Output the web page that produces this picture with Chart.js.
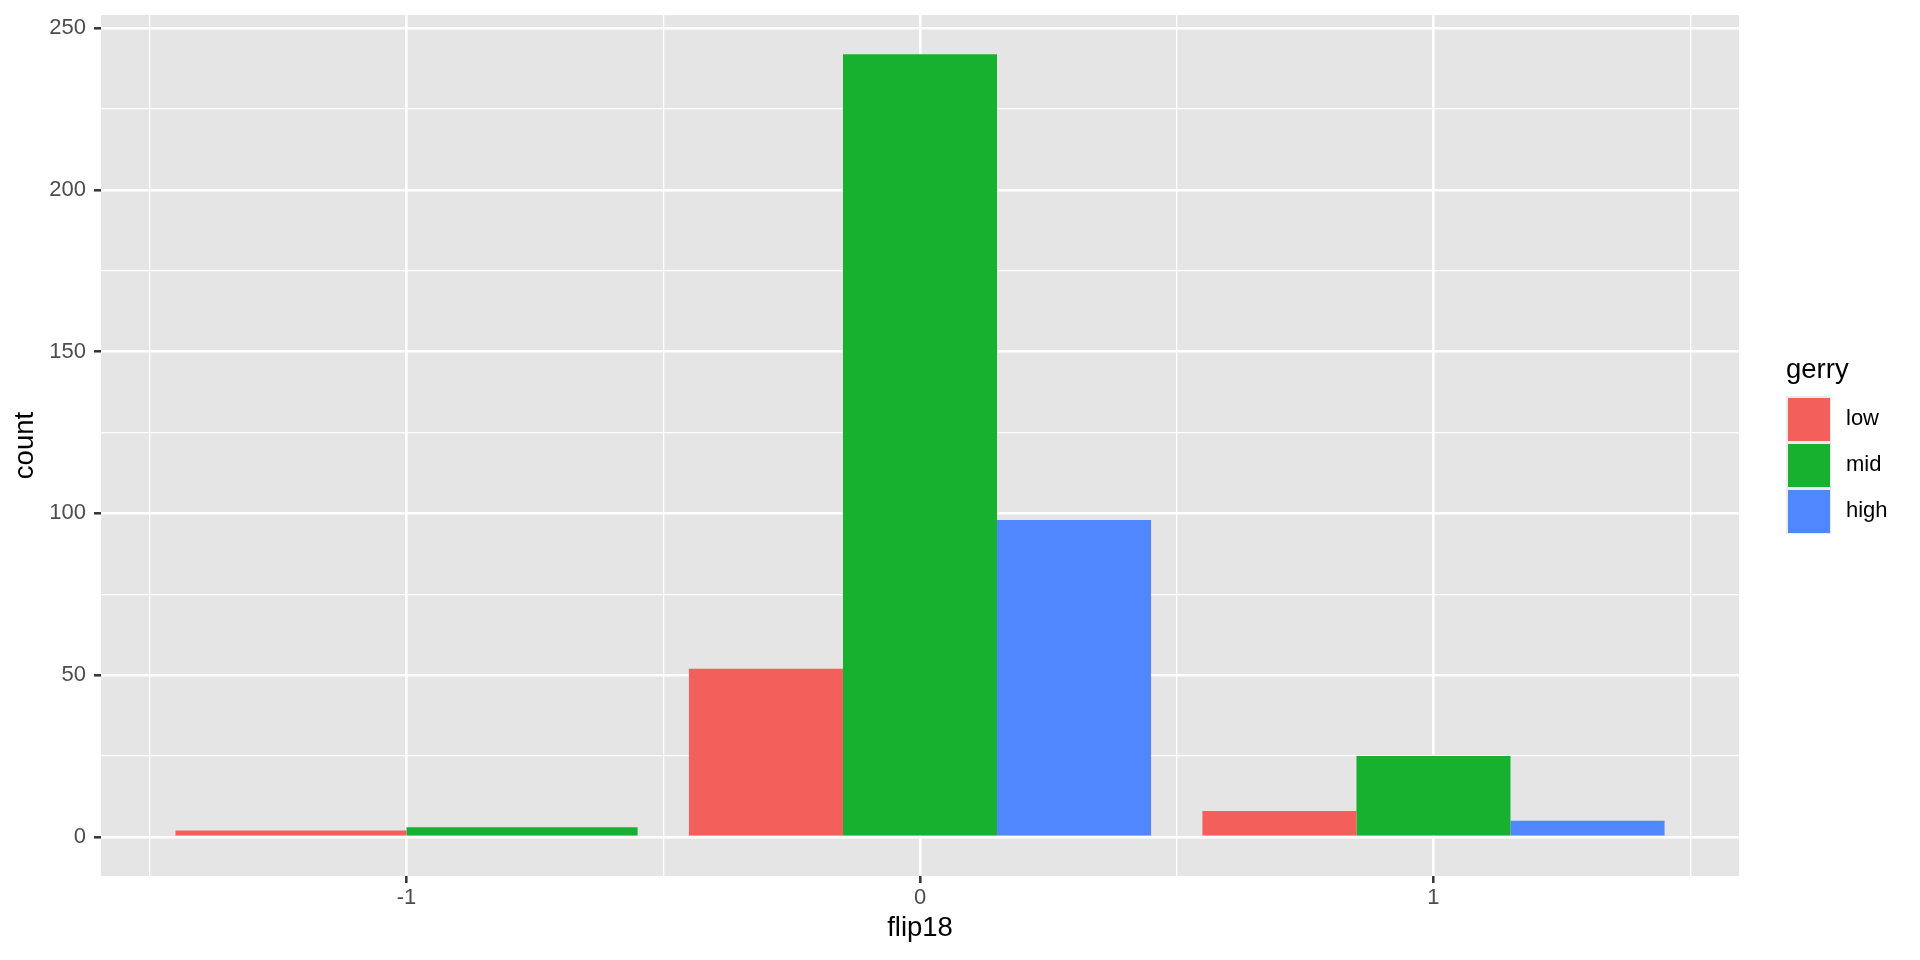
<!DOCTYPE html>
<html>
<head>
<meta charset="utf-8">
<script src="https://cdn.jsdelivr.net/npm/chart.js@4"></script>
<style>
  html, body { margin: 0; padding: 0; background: #fff; }
  #wrap { width: 1920px; height: 960px; }
</style>
</head>
<body>
<div id="wrap"><canvas id="chart" width="1920" height="960"></canvas></div>
<script>
// flip18 categories and counts per gerry group
const flip18 = [-1, 0, 1];
const lowCounts = [2, 52, 8];
const midCounts = [3, 242, 25];
const highCounts = [null, 98, 5];

const groupNames = ["low", "mid", "high"];
const groupColors = ["#F3605B", "#18B12F", "#5087FF"];

const yTicks = [0, 50, 100, 150, 200, 250];

const FONT = "'Liberation Sans', Arial, Helvetica, sans-serif";

function toPoints(values) {
  return flip18.map((x, i) => ({ x: x, y: values[i] }));
}

// grey panel behind the plot area
const panelBg = {
  id: "panelBg",
  beforeDraw(chart) {
    const a = chart.chartArea;
    const ctx = chart.ctx;
    ctx.save();
    ctx.fillStyle = "#E5E5E5";
    ctx.fillRect(a.left, a.top, a.right - a.left, a.bottom - a.top);
    ctx.restore();
  },
};

// ggplot-like legend on the right
const sideLegend = {
  id: "sideLegend",
  afterDraw(chart) {
    const ctx = chart.ctx;
    const x = 1786;
    const top = 396;
    const step = 46;
    const sets = chart.data.datasets;
    ctx.save();
    ctx.fillStyle = "#000";
    ctx.font = "27.5px " + FONT;
    ctx.textBaseline = "alphabetic";
    ctx.textAlign = "left";
    ctx.fillText("gerry", x, 378);

    ctx.fillStyle = "#EBEBEB";
    ctx.fillRect(x, top, 45, step * sets.length);
    ctx.font = "22px " + FONT;
    ctx.textBaseline = "middle";
    sets.forEach((ds, i) => {
      ctx.fillStyle = ds.backgroundColor;
      ctx.fillRect(x + 2, top + step * i + 2, 42, step - 3);
      ctx.fillStyle = "#000";
      ctx.fillText(ds.label, 1846, top + step * i + step / 2);
    });
    ctx.restore();
  },
};

const isMajorX = (c) => c.tick !== undefined && flip18.includes(c.tick.value);
const isMajorY = (c) => c.tick !== undefined && yTicks.includes(c.tick.value);

new Chart(document.getElementById("chart"), {
  type: "bar",
  data: {
    datasets: [
      { label: groupNames[0], data: toPoints(lowCounts), backgroundColor: groupColors[0] },
      { label: groupNames[1], data: toPoints(midCounts), backgroundColor: groupColors[1] },
      { label: groupNames[2], data: toPoints(highCounts), backgroundColor: groupColors[2] },
    ],
  },
  options: {
    responsive: false,
    animation: false,
    layout: { padding: { top: 15, right: 181, bottom: 0, left: 0 } },
    datasets: {
      bar: {
        skipNull: true,
        // bar ruler uses the 0.5-step tick spacing, so 0.9 of a unit = 1.8 of it
        categoryPercentage: 1.8,
        barPercentage: 1.0,
        borderWidth: 0,
      },
    },
    plugins: {
      legend: { display: false },
      tooltip: { enabled: false },
    },
    scales: {
      x: {
        type: "linear",
        min: -1.595,
        max: 1.595,
        offset: false,
        afterFit: (s) => {
          s.height = 84;
          s.paddingLeft = 0;
          s.paddingRight = 0;
        },
        border: { display: false },
        grid: {
          offset: false,
          color: "#FFFFFF",
          lineWidth: (c) => (isMajorX(c) ? 2.6 : 1.3),
          tickColor: (c) => (isMajorX(c) ? "#333333" : "rgba(0,0,0,0)"),
          tickLength: 7,
          tickWidth: 2.5,
        },
        ticks: {
          stepSize: 0.5,
          includeBounds: false,
          autoSkip: false,
          maxRotation: 0,
          padding: 2,
          color: "#4D4D4D",
          font: { family: FONT, size: 22 },
          callback: (v) => (flip18.includes(v) ? String(v) : ""),
        },
        title: {
          display: true,
          text: "flip18",
          color: "#000",
          font: { family: FONT, size: 27.5 },
          padding: { top: 0, bottom: 15 },
        },
      },
      y: {
        min: -12.1,
        max: 254.1,
        afterFit: (s) => {
          s.width = 101;
          s.paddingTop = 0;
          s.paddingBottom = 0;
        },
        border: { display: false },
        grid: {
          color: "#FFFFFF",
          lineWidth: (c) => (isMajorY(c) ? 2.6 : 1.3),
          tickColor: (c) => (isMajorY(c) ? "#333333" : "rgba(0,0,0,0)"),
          tickLength: 7,
          tickWidth: 2.5,
        },
        ticks: {
          stepSize: 25,
          includeBounds: false,
          autoSkip: false,
          padding: 8,
          color: "#4D4D4D",
          font: { family: FONT, size: 22 },
          callback: (v) => (yTicks.includes(v) ? String(v) : ""),
        },
        title: {
          display: true,
          text: "count",
          color: "#000",
          font: { family: FONT, size: 27.5 },
          padding: { top: 9, bottom: 0 },
        },
      },
    },
  },
  plugins: [panelBg, sideLegend],
});
</script>
</body>
</html>
